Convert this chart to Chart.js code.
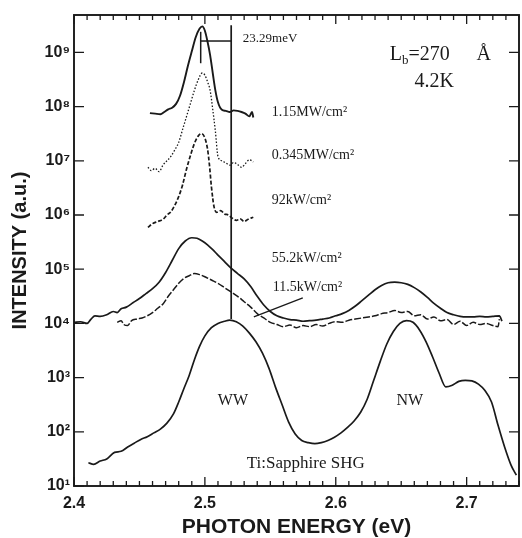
<!DOCTYPE html>
<html>
<head>
<meta charset="utf-8">
<script src="https://cdn.jsdelivr.net/npm/chart.js@4.4.0/dist/chart.umd.min.js"></script>
<style>
  html, body { margin: 0; padding: 0; background: #fff; }
</style>
</head>
<body>
<canvas id="myChart" width="522" height="538"></canvas>
<script>
// axis ticks
const xTickValues = [2.4, 2.5, 2.6, 2.7];
const yTickExps = [1, 2, 3, 4, 5, 6, 7, 8, 9];

// Ti:Sapphire SHG spectrum (energy in eV, log10 intensity)
const shgEnergy = [2.411,2.415,2.420,2.425,2.431,2.436,2.441,2.446,2.451,2.456,
  2.461,2.466,2.471,2.476,2.480,2.484,2.488,2.492,2.496,2.500,
  2.505,2.510,2.515,2.519,2.524,2.529,2.534,2.539,2.544,2.549,
  2.554,2.559,2.564,2.569,2.574,2.579,2.584,2.589,2.594,2.599,
  2.604,2.609,2.614,2.619,2.624,2.629,2.634,2.639,2.644,2.649,
  2.654,2.659,2.664,2.669,2.674,2.679,2.684,2.689,2.694,2.699,
  2.704,2.709,2.714,2.719,2.724,2.729,2.734,2.738];
const shgLog = [1.43,1.40,1.46,1.50,1.62,1.64,1.72,1.79,1.86,1.91,
  1.98,2.05,2.16,2.33,2.55,2.80,3.04,3.33,3.58,3.77,
  3.92,4.00,4.04,4.06,4.03,3.95,3.82,3.66,3.45,3.17,
  2.82,2.50,2.18,1.96,1.84,1.80,1.78,1.80,1.84,1.90,
  1.98,2.08,2.20,2.36,2.60,2.95,3.30,3.62,3.85,4.00,
  4.05,4.02,3.88,3.66,3.38,3.08,2.83,2.86,2.93,2.95,
  2.94,2.88,2.76,2.55,2.12,1.72,1.38,1.20];

// 11.5 kW/cm2
const p115Energy = [2.433,2.436,2.438,2.441,2.444,2.448,2.452,2.456,2.460,2.464,
  2.468,2.472,2.476,2.480,2.484,2.488,2.492,2.496,2.500,2.505,
  2.510,2.515,2.520,2.525,2.530,2.535,2.540,2.545,2.550,2.555,
  2.560,2.565,2.570,2.575,2.580,2.585,2.590,2.595,2.600,2.605,
  2.610,2.615,2.620,2.625,2.630,2.635,2.640,2.645,2.650,2.655,
  2.660,2.665,2.670,2.675,2.680,2.685,2.690,2.695,2.700,2.705,
  2.710,2.715,2.720,2.724,2.725];
const p115Log = [4.02,4.05,3.98,3.96,4.05,4.08,4.10,4.14,4.20,4.28,
  4.36,4.50,4.62,4.74,4.83,4.88,4.92,4.90,4.86,4.80,
  4.74,4.66,4.58,4.50,4.40,4.30,4.18,4.10,4.02,3.98,
  3.94,3.97,3.92,3.96,3.94,3.98,3.95,4.00,4.03,4.02,
  4.06,4.08,4.10,4.12,4.14,4.18,4.20,4.24,4.20,4.22,
  4.14,4.16,4.08,4.12,4.05,4.07,3.98,4.04,3.96,4.02,
  3.98,4.00,3.96,3.94,4.08];

// 55.2 kW/cm2
const p552Energy = [2.400,2.405,2.410,2.413,2.416,2.420,2.425,2.430,2.433,2.436,
  2.440,2.445,2.450,2.455,2.460,2.465,2.470,2.475,2.480,2.485,
  2.490,2.494,2.498,2.502,2.506,2.510,2.515,2.520,2.525,2.530,
  2.535,2.540,2.545,2.550,2.555,2.560,2.565,2.570,2.575,2.580,
  2.585,2.590,2.595,2.600,2.605,2.610,2.615,2.620,2.625,2.630,
  2.635,2.640,2.645,2.650,2.655,2.660,2.665,2.670,2.675,2.680,
  2.685,2.690,2.695,2.700,2.705,2.710,2.715,2.720,2.725,2.727];
const p552Log = [4.02,4.03,4.00,4.08,4.14,4.13,4.16,4.22,4.20,4.27,
  4.30,4.38,4.46,4.55,4.64,4.76,4.94,5.16,5.38,5.52,
  5.58,5.57,5.52,5.45,5.36,5.26,5.14,5.02,4.92,4.82,
  4.68,4.50,4.34,4.22,4.14,4.10,4.07,4.06,4.04,4.05,
  4.06,4.08,4.10,4.14,4.18,4.24,4.32,4.42,4.52,4.62,
  4.70,4.75,4.76,4.75,4.72,4.66,4.58,4.48,4.37,4.28,
  4.20,4.16,4.13,4.12,4.12,4.13,4.12,4.13,4.14,4.04];

// 92 kW/cm2
const p92Energy = [2.4565,2.460,2.464,2.468,2.471,2.474,2.477,2.480,2.483,2.486,
  2.489,2.492,2.495,2.4975,2.500,2.502,2.5035,2.505,2.507,2.509,
  2.512,2.515,2.518,2.521,2.524,2.527,2.530,2.533,2.537];
const p92Log = [5.77,5.84,5.88,5.92,6.00,6.06,6.18,6.34,6.56,6.85,
  7.10,7.32,7.46,7.50,7.42,7.22,6.92,6.52,6.15,6.05,
  6.08,6.02,6.00,5.94,5.90,5.93,5.88,5.92,5.96];

// 0.345 MW/cm2
const p345Energy = [2.4565,2.459,2.462,2.465,2.468,2.471,2.474,2.477,2.480,2.483,
  2.486,2.489,2.492,2.495,2.498,2.500,2.502,2.504,2.506,2.508,
  2.510,2.513,2.516,2.519,2.522,2.525,2.528,2.531,2.534,2.537];
const p345Log = [6.88,6.82,6.86,6.80,6.92,7.00,7.08,7.20,7.34,7.58,
  7.82,8.06,8.30,8.50,8.62,8.58,8.46,8.30,7.95,7.55,
  7.08,7.00,6.96,6.92,6.97,6.93,6.88,6.95,7.02,6.98];

// 1.15 MW/cm2
const p1150Energy = [2.458,2.462,2.466,2.469,2.472,2.475,2.478,2.481,2.484,2.487,
  2.490,2.493,2.496,2.498,2.500,2.502,2.504,2.506,2.508,2.510,
  2.513,2.516,2.519,2.522,2.525,2.528,2.531,2.534,2.536,2.537];
const p1150Log = [7.88,7.87,7.86,7.90,7.95,7.98,8.05,8.20,8.45,8.75,
  9.02,9.28,9.44,9.48,9.40,9.20,8.95,8.62,8.30,8.08,
  7.94,7.92,7.90,7.93,7.92,7.90,7.87,7.82,7.90,7.80];

// 23.29 meV splitting marker and the 11.5 kW leader line
const splitEnergy = [2.4968, 2.5201];
const splitLong = [9.5, 4.08];
const splitBar = 9.21;
const splitShort = [9.38, 8.8];
const leaderEnergy = [2.5748, 2.5374];
const leaderLog = [4.47, 4.12];

function pts(es, ls) {
  return es.map((e, i) => ({ x: e, y: Math.pow(10, ls[i]) }));
}

function curve(es, ls, dash, width) {
  return {
    data: pts(es, ls),
    borderColor: '#1a1a1a',
    borderWidth: width || 1.7,
    borderDash: dash || [],
    pointRadius: 0,
    fill: false,
    cubicInterpolationMode: 'monotone'
  };
}

const datasets = [
  curve(shgEnergy, shgLog),
  curve(p115Energy, p115Log, [7, 2], 1.5),
  curve(p552Energy, p552Log),
  curve(p92Energy, p92Log, [4, 2]),
  curve(p345Energy, p345Log, [1.5, 1.8], 1.3),
  curve(p1150Energy, p1150Log, [], 1.9),
  curve([splitEnergy[1], splitEnergy[1]], splitLong, [], 1.7),
  curve(splitEnergy, [splitBar, splitBar], [], 1.5),
  curve([splitEnergy[0], splitEnergy[0]], splitShort, [], 1.5),
  curve(leaderEnergy, leaderLog, [], 1.3)
];

const sup = { '1': '\u00b9', '2': '\u00b2', '3': '\u00b3', '4': '\u2074', '5': '\u2075',
  '6': '\u2076', '7': '\u2077', '8': '\u2078', '9': '\u2079' };

// text annotations: [text, energy, log10 y, size, align]
const notes = [
  ['1.15MW/cm\u00b2', 2.5511, 7.89, 14, 'left'],
  ['0.345MW/cm\u00b2', 2.5511, 7.10, 14, 'left'],
  ['92kW/cm\u00b2', 2.5511, 6.27, 14, 'left'],
  ['55.2kW/cm\u00b2', 2.5511, 5.20, 14, 'left'],
  ['11.5kW/cm\u00b2', 2.5519, 4.66, 14, 'left'],
  ['23.29meV', 2.529, 9.26, 13, 'left'],
  ['4.2K', 2.6752, 8.45, 20, 'center'],
  ['WW', 2.5214, 2.57, 16, 'center'],
  ['NW', 2.6565, 2.57, 16, 'center'],
  ['Ti:Sapphire SHG', 2.532, 1.41, 17, 'left']
];

const serif = '"Liberation Serif", "Times New Roman", serif';

const framePlugin = {
  id: 'frame',
  afterDatasetsDraw(chart) {
    const { ctx, chartArea: a, scales: { x, y } } = chart;
    ctx.save();
    ctx.strokeStyle = '#1a1a1a';
    ctx.lineWidth = 1.9;
    ctx.strokeRect(a.left, a.top, a.right - a.left, a.bottom - a.top);

    // inward ticks
    ctx.lineWidth = 1.3;
    ctx.beginPath();
    for (let i = 240; i <= 274; i++) {
      const px = x.getPixelForValue(i / 100);
      const len = i % 10 === 0 ? 9 : 5;
      ctx.moveTo(px, a.bottom); ctx.lineTo(px, a.bottom - len);
      ctx.moveTo(px, a.top); ctx.lineTo(px, a.top + len);
    }
    yTickExps.forEach(e => {
      const py = y.getPixelForValue(Math.pow(10, e));
      ctx.moveTo(a.left, py); ctx.lineTo(a.left + 10, py);
      ctx.moveTo(a.right, py); ctx.lineTo(a.right - 10, py);
    });
    ctx.stroke();

    ctx.fillStyle = '#1a1a1a';
    ctx.textBaseline = 'middle';
    notes.forEach(n => {
      ctx.font = n[3] + 'px ' + serif;
      ctx.textAlign = n[4];
      ctx.fillText(n[0], x.getPixelForValue(n[1]), y.getPixelForValue(Math.pow(10, n[2])));
    });

    // L_b = 270 Å
    let lx = x.getPixelForValue(2.6412);
    const ly = y.getPixelForValue(Math.pow(10, 8.95));
    ctx.textAlign = 'left';
    ctx.font = '20px ' + serif;
    ctx.fillText('L', lx, ly);
    lx += ctx.measureText('L').width;
    ctx.font = '13px ' + serif;
    ctx.fillText('b', lx, ly + 5);
    lx += ctx.measureText('b').width;
    ctx.font = '20px ' + serif;
    ctx.fillText('=270', lx, ly);
    ctx.fillText('\u00c5', x.getPixelForValue(2.7076), ly);
    ctx.restore();
  }
};

const ctx = document.getElementById('myChart').getContext('2d');
Chart.defaults.font.family = '"Liberation Sans", Arial, "DejaVu Sans", sans-serif';
Chart.defaults.color = '#1a1a1a';

const myChart = new Chart(ctx, {
  type: 'line',
  data: { datasets: datasets },
  options: {
    responsive: false,
    animation: false,
    layout: { padding: { top: 15, right: 3, left: 0, bottom: 0 } },
    plugins: { legend: { display: false }, tooltip: { enabled: false } },
    scales: {
      x: {
        type: 'linear',
        min: 2.4,
        max: 2.74,
        afterBuildTicks: s => { s.ticks = xTickValues.map(v => ({ value: v })); },
        afterFit: s => { s.height = 52; },
        grid: { display: false, drawTicks: false },
        border: { display: false },
        ticks: {
          autoSkip: false, maxRotation: 0, padding: 8,
          font: { size: 16, weight: 'bold' },
          callback: v => v.toFixed(1)
        },
        title: {
          display: true, text: 'PHOTON ENERGY (eV)',
          font: { size: 21, weight: 'bold', lineHeight: 1 },
          padding: { top: 0, bottom: 0 }
        }
      },
      y: {
        type: 'logarithmic',
        min: 10,
        max: Math.pow(10, 9.69),
        afterBuildTicks: s => { s.ticks = yTickExps.map(e => ({ value: Math.pow(10, e) })); },
        afterFit: s => { s.width = 74; },
        grid: { display: false, drawTicks: false },
        border: { display: false },
        ticks: {
          autoSkip: false, padding: 4,
          font: { size: 16, weight: 'bold' },
          callback: v => '10' + sup[String(Math.round(Math.log10(v)))]
        },
        title: {
          display: true, text: 'INTENSITY (a.u.)',
          font: { size: 20, weight: 'bold', lineHeight: 1 },
          padding: { top: 10, bottom: 0 }
        }
      }
    }
  },
  plugins: [framePlugin]
});
</script>
</body>
</html>
